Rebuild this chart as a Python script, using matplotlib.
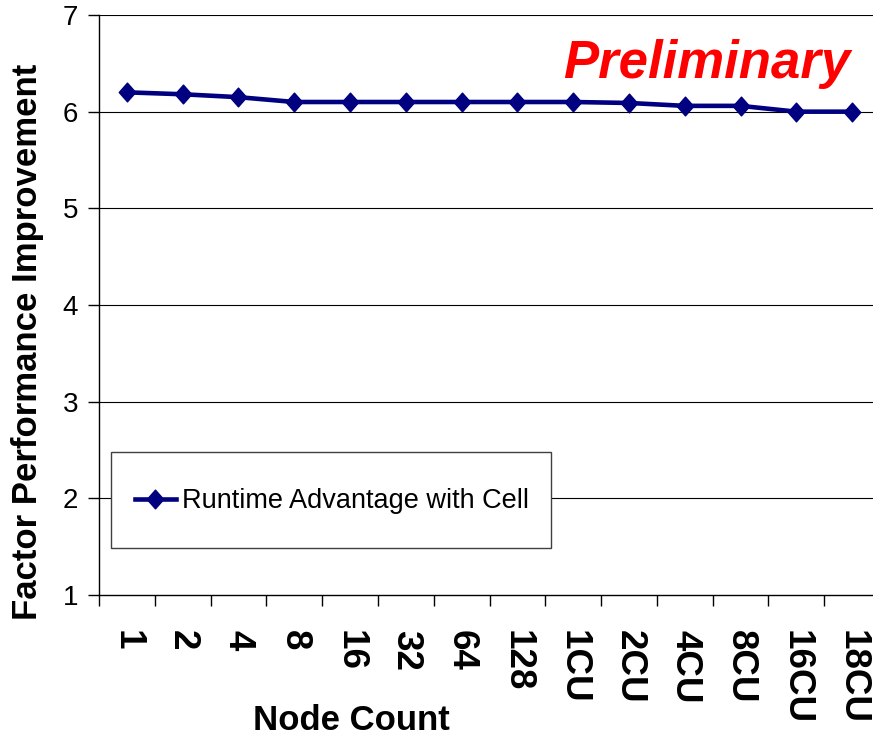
import numpy as np
import matplotlib
matplotlib.use('Agg')
import matplotlib.pyplot as plt
from matplotlib.patches import Rectangle
from matplotlib.path import Path

plt.rcParams['font.family'] = ['Liberation Sans', 'DejaVu Sans']

# node counts and the speed-up factor for each
node_labels = ['1', '2', '4', '8', '16', '32', '64', '128',
               '1CU', '2CU', '4CU', '8CU', '16CU', '18CU']
runtime_advantage = [6.2, 6.18, 6.15, 6.1, 6.1, 6.1, 6.1, 6.1,
                     6.1, 6.09, 6.06, 6.06, 6.0, 6.0]
series_name = 'Runtime Advantage with Cell'

# slightly tall diamond, like the spreadsheet marker
diamond = Path([(0, 1), (0.88, 0), (0, -1), (-0.88, 0), (0, 1)],
               [Path.MOVETO, Path.LINETO, Path.LINETO, Path.LINETO, Path.CLOSEPOLY])

fig = plt.figure(figsize=(8.73, 7.36), dpi=100)
ax = fig.add_axes([99 / 873, 1 - 595 / 736, 781 / 873, 580 / 736])

x = np.arange(len(node_labels))
ax.plot(x, runtime_advantage, color='#000080', lw=3.3, marker=diamond,
        markersize=13.5, markerfacecolor='#000080', markeredgecolor='#000080',
        label=series_name, clip_on=False, zorder=3)

ax.set_xlim(-0.5, len(node_labels) - 0.5)
ax.set_ylim(1, 7)

# labels sit under each point, tick marks go between categories
ax.set_xticks(x)
ax.set_xticklabels(node_labels, rotation=-90, fontsize=26.5, fontweight='bold')
ax.set_xticks(np.arange(-0.5, len(node_labels)), minor=True)
ax.tick_params(axis='x', which='major', length=0, pad=25)
ax.tick_params(axis='x', which='minor', length=8, width=1, direction='out')

ax.set_yticks(range(1, 8))
ax.tick_params(axis='y', labelsize=20, length=8, width=1, pad=7)

for yv in range(2, 8):
    ax.axhline(yv, color='black', lw=0.8, zorder=1)

for side in ['top', 'right']:
    ax.spines[side].set_visible(False)
ax.spines['left'].set_linewidth(1)
ax.spines['bottom'].set_linewidth(1)

fig.text(28 / 873, 1 - 342 / 736, 'Factor Performance Improvement',
         rotation=90, fontsize=25, fontweight='bold', ha='center', va='center')
fig.text(351 / 873, 1 - 721 / 736, 'Node Count', fontsize=25,
         fontweight='bold', ha='center', va='center')
fig.text(850 / 873, 1 - 78 / 736, 'Preliminary', color='red', fontsize=38,
         fontweight='bold', fontstyle='italic', ha='right', va='baseline')

# legend box drawn by hand so its size can be set exactly
box = Rectangle((111 / 873, 1 - 548 / 736), 440 / 873, 96 / 736,
                transform=fig.transFigure, facecolor='white',
                edgecolor='#404040', lw=1, zorder=4)
ax.add_patch(box)
leg = ax.legend(loc='center left', bbox_to_anchor=(135 / 873, 1 - 501 / 736),
                bbox_transform=fig.transFigure, fontsize=19.5, borderpad=0,
                handlelength=1.5, handletextpad=0.25, frameon=False,
                borderaxespad=0)
leg.set_zorder(5)

fig.savefig('out.png', dpi=100)
